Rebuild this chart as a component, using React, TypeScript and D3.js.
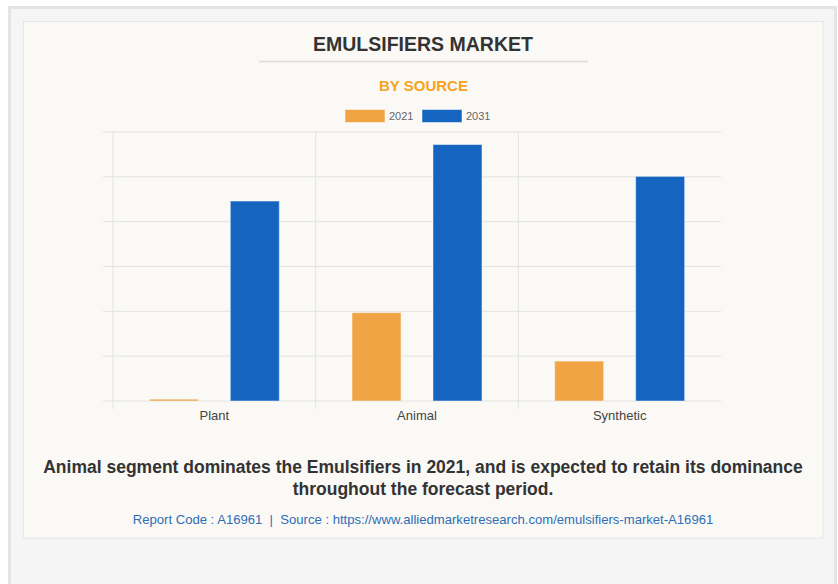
import React from "react";
import * as d3 from "d3";

const categories = ["Plant", "Animal", "Synthetic"];
const seriesNames = ["2021", "2031"];
const values2021 = [0.04, 1.97, 0.89];
const values2031 = [4.46, 5.72, 5.01];
const yTicks = [0, 1, 2, 3, 4, 5, 6];
const colors = ["#f0a444", "#1565c0"];

const W = 838;
const H = 584;
const FONT = "'Liberation Sans', Arial, sans-serif";

export default function App() {
  const x0 = d3.scaleBand<string>().domain(categories).range([113, 721]).paddingInner(0).paddingOuter(0);
  const x1 = d3
    .scaleBand<string>()
    .domain(seriesNames)
    .range([0, x0.bandwidth()])
    .paddingInner(0.395)
    .paddingOuter(0.449);
  const y = d3.scaleLinear().domain([0, 6]).range([401, 132]);
  const seriesValues = [values2021, values2031];

  return (
    <div style={{ position: "fixed", left: 0, top: 0, width: W, height: H, background: "#fff" }}>
      <svg width={W} height={H} style={{ display: "block", fontFamily: FONT }}>
        <rect x={0} y={0} width={W} height={H} fill="#ffffff" />
        <rect x={9.5} y={7.5} width={826} height={600} fill="#f5f5f5" stroke="#e4e4e4" strokeWidth={3} />
        <rect x={23.5} y={21.5} width={799.5} height={516.5} fill="#faf9f5" stroke="#e6e6e6" strokeWidth={1} />

        <text x={423} y={51} textAnchor="middle" fontSize={19.5} fontWeight="bold" fill="#333">
          EMULSIFIERS MARKET
        </text>
        <line x1={259} x2={588} y1={61.5} y2={61.5} stroke="#dcdcdc" strokeWidth={1.5} />
        <text x={423.5} y={91} textAnchor="middle" fontSize={15} fontWeight="bold" fill="#f7a31e">
          BY SOURCE
        </text>

        {seriesNames.map((s, i) => {
          const lx = [345, 422][i];
          return (
            <g key={s}>
              <rect x={lx} y={109.5} width={40} height={13} fill={colors[i]} stroke="#ffffff" strokeOpacity={0.5} />
              <text x={lx + 44} y={120} fontSize={11} fill="#666">
                {s}
              </text>
            </g>
          );
        })}

        {yTicks.map((t) => (
          <line key={t} x1={103} x2={721} y1={y(t)} y2={y(t)} stroke="#e3e2de" strokeWidth={1} />
        ))}
        {categories.map((c) => (
          <line key={c} x1={x0(c)!} x2={x0(c)!} y1={132} y2={409} stroke="#e3e2de" strokeWidth={1} />
        ))}

        {categories.map((c, ci) => (
          <g key={c} transform={`translate(${x0(c)},0)`}>
            {seriesNames.map((s, si) => {
              const v = seriesValues[si][ci];
              return (
                <rect
                  key={s}
                  x={x1(s)!}
                  y={y(v)}
                  width={x1.bandwidth()}
                  height={y(0) - y(v)}
                  fill={colors[si]}
                  stroke="#ffffff"
                  strokeOpacity={0.45}
                  strokeWidth={1}
                />
              );
            })}
            <text x={x0.bandwidth() / 2} y={419.5} textAnchor="middle" fontSize={13} fill="#444">
              {c}
            </text>
          </g>
        ))}

        <text x={423} y={473} textAnchor="middle" fontSize={17.5} fontWeight="bold" fill="#333">
          Animal segment dominates the Emulsifiers in 2021, and is expected to retain its dominance
        </text>
        <text x={423} y={495} textAnchor="middle" fontSize={17.5} fontWeight="bold" fill="#333">
          throughout the forecast period.
        </text>
        <text
          x={423}
          y={524}
          textAnchor="middle"
          fontSize={13.1}
          fill="#2f6db5"
          style={{ whiteSpace: "pre" }}
        >
          {"Report Code : A16961  |  Source : https://www.alliedmarketresearch.com/emulsifiers-market-A16961"}
        </text>
      </svg>
    </div>
  );
}
